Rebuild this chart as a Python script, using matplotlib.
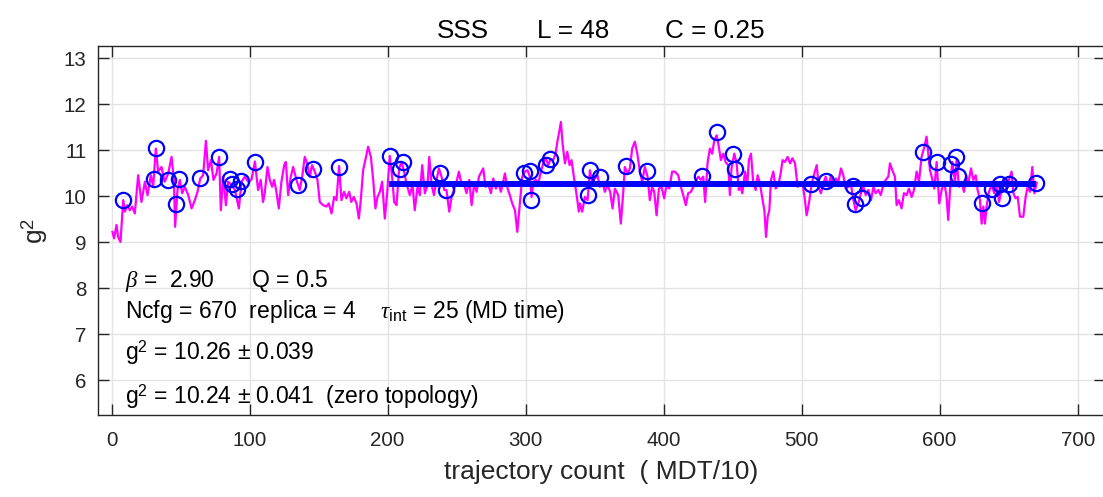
import matplotlib
matplotlib.use("Agg")
import matplotlib.pyplot as plt

# ---------------- data ----------------
traj_x = [0.7, 1.9, 3.6, 4.8, 6.5, 8.5, 9.7, 11.4, 13.3, 15.0, 16.9, 19.3, 21.7, 24.2, 26.1, 28.5,
          30.2, 32.1, 33.8, 36.2, 38.6, 41.1, 43.5, 45.2, 46.1, 47.8, 49.5, 51.2, 53.1, 55.6, 58.0,
          60.4, 62.3, 64.3, 66.4, 68.4, 70.0, 72.0, 73.9, 76.1, 78.0, 79.2, 80.9, 82.9, 84.5, 87.0,
          89.4, 92.3, 94.2, 96.6, 99.0, 101.4, 103.9, 106.2, 108.1, 109.8, 111.0, 113.0, 114.7,
          116.4, 117.8, 119.5, 121.2, 123.1, 125.1, 126.3, 128.0, 129.9, 131.6, 134.0, 136.4, 138.3,
          140.0, 141.7, 143.7, 145.3, 147.3, 149.2, 150.9, 153.3, 155.7, 157.4, 159.4, 161.3, 163.0,
          164.9, 166.6, 168.5, 170.2, 172.2, 173.8, 175.5, 177.5, 179.2, 180.6, 182.3, 184.2, 185.9,
          187.9, 189.6, 191.2, 192.7, 194.4, 196.1, 198.0, 199.7, 201.6, 203.3, 204.8, 206.5, 208.4,
          210.1, 212.0, 213.7, 216.1, 218.1, 219.7, 221.7, 223.4, 225.1, 227.0, 229.0, 230.2,
          231.9, 233.6, 235.5, 237.2, 239.1, 241.1, 242.7, 244.7, 246.4, 248.3, 250.0, 251.7, 253.6,
          255.5, 257.2, 259.2, 260.9, 262.8, 264.5, 266.2, 268.1, 269.3, 271.0, 272.9, 274.9, 276.6,
          278.5, 280.2, 282.1, 283.8, 285.0, 287.0, 288.6, 290.3, 292.3, 294.0, 295.9, 297.6, 299.5,
          301.4, 303.1, 304.3, 305.8, 307.5, 309.2, 311.1, 312.8, 314.7, 316.4, 318.1, 320.0, 321.7,
          323.2, 324.4, 325.6, 326.8, 328.5, 330.2, 331.9, 333.3, 335.3, 337.0, 338.6, 339.3, 341.0,
          343.0, 344.9, 346.6, 348.3, 350.2, 352.1, 353.8, 355.7, 357.4, 359.4, 361.3, 363.0, 364.7,
          367.1, 369.0, 370.7, 371.9, 373.9, 375.6, 377.2, 379.2, 381.1, 382.8, 384.5, 386.4, 388.4,
          390.0, 391.7, 393.2, 394.9, 396.6, 398.5, 400.4, 402.1, 404.1, 406.2, 408.2, 410.6, 412.5,
          414.2, 416.1, 417.8, 419.8, 421.5, 423.1, 425.1, 427.0, 428.7, 430.1, 431.8, 433.5, 435.2,
          436.7, 438.4, 440.0, 441.5, 443.2, 444.9, 446.8, 448.0, 449.2, 451.2, 452.9, 454.5, 455.3,
          457.0, 459.0, 460.6, 461.8, 463.3, 465.0, 466.7, 468.1, 469.8, 471.5, 473.0, 474.2, 475.4,
          476.6, 477.8, 479.5, 481.2, 483.1, 484.8, 486.2, 487.9, 489.9, 491.6, 493.3, 495.2, 497.1,
          498.8, 500.7, 502.4, 503.6, 505.3, 507.3, 509.2, 510.9, 512.6, 514.0, 515.7, 517.4, 519.3,
          521.3, 522.9, 524.9, 526.6, 528.5, 530.2, 531.9, 533.8, 535.8, 537.5, 539.1, 541.1, 543.0,
          544.7, 546.4, 548.3, 550.3, 552.0, 553.6, 555.6, 557.3, 559.2, 560.9, 562.8, 564.0, 565.7,
          567.6, 568.8, 570.5, 572.4, 574.1, 576.1, 577.7, 579.7, 581.4, 583.3, 585.0, 586.9, 588.9,
          590.5, 591.8, 593.0, 594.2, 596.1, 597.8, 599.7, 601.4, 603.3, 605.0, 606.2, 607.5, 609.1,
          611.1, 612.3, 614.0, 615.9, 617.6, 619.1, 620.7, 622.7, 624.4, 626.1, 627.5, 629.2, 630.4,
          631.6, 632.8, 634.0, 635.7, 637.6, 639.6, 641.3, 643.0, 644.9, 646.8, 648.5, 650.2, 652.1,
          653.4, 655.0, 656.5, 658.2, 660.6, 662.3, 663.7, 665.4, 667.1, 668.6, 670.3]
traj_g2 = [9.23, 9.09, 9.38, 9.12, 9.01, 9.92, 9.67, 9.81, 9.70, 9.78, 9.63, 10.46, 9.88, 10.32, 10.03,
           10.46, 10.21, 11.04, 10.54, 10.64, 10.32, 10.50, 10.86, 10.36, 9.34, 10.14, 10.36, 10.07,
           10.21, 10.03, 9.74, 9.92, 10.10, 10.39, 10.46, 11.21, 10.57, 10.79, 10.36, 10.50, 10.86,
           9.70, 10.43, 9.81, 10.32, 10.25, 10.14, 9.74, 10.32, 10.43, 10.32, 10.36, 10.76, 10.14,
           10.36, 9.88, 10.07, 10.64, 10.36, 10.21, 10.36, 10.10, 9.74, 10.32, 10.68, 10.75, 10.03,
           10.43, 10.64, 10.36, 10.14, 10.46, 10.86, 10.72, 10.43, 10.68, 10.54, 10.36, 9.88, 9.81,
           9.78, 9.85, 9.63, 9.99, 9.92, 10.66, 9.92, 10.10, 9.96, 10.10, 9.88, 9.99, 9.85, 9.52,
           9.92, 10.57, 10.83, 11.08, 10.86, 10.36, 9.74, 9.99, 10.10, 10.32, 9.52, 10.07, 10.88,
           10.43, 9.88, 9.81, 10.61, 10.75, 10.54, 10.28, 10.03, 10.25, 9.70, 10.21, 10.03, 10.68,
           10.07, 10.25, 10.86, 10.25, 10.03, 10.36, 10.61, 10.43, 10.14, 10.14, 9.67, 9.99, 10.17,
           10.32, 10.54, 10.25, 10.25, 10.07, 10.36, 9.81, 10.28, 10.10, 10.43, 10.54, 10.61, 10.21,
           10.28, 10.07, 10.39, 10.17, 10.32, 10.10, 10.32, 10.50, 10.17, 10.03, 9.85, 9.70, 9.23,
           9.85, 10.43, 10.54, 10.57, 10.43, 9.99, 10.32, 10.36, 10.28, 10.54, 10.72, 10.83, 10.68,
           10.81, 10.79, 10.93, 11.22, 11.41, 11.62, 11.15, 10.72, 10.97, 10.68, 10.79, 10.36, 10.03,
           9.67, 9.85, 9.67, 9.99, 9.92, 10.57, 10.32, 10.39, 10.46, 10.21, 10.32, 10.10, 10.25,
           10.10, 9.74, 10.17, 10.03, 9.41, 10.07, 10.64, 10.50, 10.61, 11.04, 11.19, 10.90, 10.54,
           10.32, 10.64, 10.43, 9.92, 10.21, 10.10, 9.59, 10.17, 10.21, 9.96, 10.25, 10.17, 10.54,
           10.54, 10.46, 10.21, 10.03, 9.81, 10.07, 10.10, 10.21, 10.32, 10.43, 10.36, 10.43, 9.88,
           10.72, 11.04, 10.93, 11.22, 11.33, 11.08, 10.79, 10.93, 10.75, 10.68, 10.03, 10.61, 10.93,
           10.72, 10.14, 10.25, 10.07, 10.54, 10.25, 10.79, 10.93, 10.28, 10.14, 10.46, 10.28, 9.96,
           9.70, 9.12, 9.56, 9.70, 10.36, 10.54, 10.17, 10.25, 10.50, 10.79, 10.75, 10.86, 10.72,
           10.83, 10.72, 10.21, 10.25, 10.28, 9.92, 9.59, 9.85, 10.28, 10.50, 10.68, 10.17, 10.07,
           10.28, 10.43, 10.21, 10.46, 10.25, 10.39, 10.32, 10.61, 10.46, 10.17, 10.21, 10.25, 9.92,
           9.70, 9.85, 10.07, 10.21, 10.03, 10.14, 9.92, 10.21, 10.07, 10.14, 10.03, 10.25, 10.36,
           10.43, 10.72, 10.57, 10.43, 9.81, 9.92, 9.74, 10.07, 10.03, 10.17, 9.99, 10.14, 10.54,
           10.32, 10.86, 11.08, 11.30, 10.93, 10.57, 10.43, 10.17, 10.75, 9.85, 10.14, 10.32, 9.99,
           9.49, 10.14, 10.75, 10.32, 10.79, 10.21, 10.32, 10.10, 10.46, 10.28, 10.61, 10.36, 10.46,
           10.14, 9.92, 9.41, 9.78, 9.41, 9.78, 10.10, 10.25, 10.07, 10.32, 9.88, 10.14, 10.39, 10.14,
           10.36, 10.54, 10.07, 9.96, 9.99, 9.56, 9.56, 9.99, 10.21, 10.10, 10.64, 10.07, 10.30]

zero_top_x = [8, 32, 31, 41, 47, 49, 64, 78, 86, 87, 91, 94, 104, 135, 146, 165, 202, 209, 211,
              238, 242, 299, 303, 304, 315, 318, 345, 347, 354, 373, 388, 428, 439, 450, 452,
              507, 518, 537, 539, 544, 588, 598, 608, 612, 613, 631, 638, 644, 645, 650, 670]
zero_top_g2 = [9.92, 11.06, 10.38, 10.36, 9.83, 10.37, 10.41, 10.86, 10.37, 10.28, 10.16, 10.34,
               10.74, 10.24, 10.59, 10.64, 10.88, 10.59, 10.75, 10.51, 10.14, 10.51, 10.56, 9.93,
               10.68, 10.81, 10.04, 10.57, 10.42, 10.67, 10.55, 10.45, 11.39, 10.93, 10.59, 10.28,
               10.33, 10.22, 9.83, 9.97, 10.97, 10.75, 10.70, 10.85, 10.45, 9.86, 10.17, 10.28,
               9.97, 10.27, 10.30]

mean_range = [201, 670]
mean_g2 = 10.26

x_ticks = [0, 100, 200, 300, 400, 500, 600, 700]
y_ticks = [6, 7, 8, 9, 10, 11, 12, 13]

title_parts = ["SSS", "L = 48", "C = 0.25"]
info_lines = [r"$\beta$ =  2.90      Q = 0.5",
              r"Ncfg = 670  replica = 4    $\tau_{\rm int}$ = 25 (MD time)",
              r"g$^2$ = 10.26 $\pm$ 0.039",
              r"g$^2$ = 10.24 $\pm$ 0.041  (zero topology)"]
info_y = [8.04, 7.36, 6.45, 5.50]

# ---------------- style ----------------
plt.rcParams['font.family'] = ['Liberation Sans', 'DejaVu Sans']
plt.rcParams['mathtext.fontset'] = 'custom'
plt.rcParams['mathtext.rm'] = 'Liberation Sans'
plt.rcParams['mathtext.it'] = 'Liberation Serif:italic'
plt.rcParams['mathtext.bf'] = 'Liberation Sans:bold'

fig = plt.figure(figsize=(11.03, 4.97), dpi=100)
ax = fig.add_axes([97.7 / 1103, 82 / 497, (1105.3 - 97.7) / 1103, 369 / 497])

ax.plot(traj_x, traj_g2, color='#ff00ff', lw=1.6, zorder=3)
ax.plot(zero_top_x, zero_top_g2, 'o', ms=11, mfc='none', mec='#0000ff', mew=1.6, zorder=4)
ax.plot(mean_range, [mean_g2, mean_g2], color='#0000ff', lw=4.3, solid_capstyle='butt', zorder=5)

ax.set_xlim(-10, 720)
ax.set_ylim(5.25, 13.27)
ax.set_xticks(x_ticks)
ax.set_yticks(y_ticks)
ax.grid(True, color='#e3e3e3', lw=1.0)
ax.set_axisbelow(True)
for s in ax.spines.values():
    s.set_color('#262626')
    s.set_linewidth(1.0)
ax.tick_params(direction='in', length=8, width=1.0, color='#262626', labelcolor='#262626',
               labelsize=14.8, top=True, right=True)
ax.tick_params(axis='x', pad=11.5)
ax.tick_params(axis='y', pad=8)

ax.set_xlabel("trajectory count  ( MDT/10)", fontsize=19, color='#262626', labelpad=7.5)
ax.set_ylabel(r"g$^2$", fontsize=19, color='#262626', labelpad=10)

title_x = [462.5, 573.5, 715.0]
for t, px in zip(title_parts, title_x):
    fig.text(px / 1103, 1 - 38 / 497, t, ha='center', va='baseline', fontsize=18.8, color='black')

for line, yv in zip(info_lines, info_y):
    ax.text(10, yv, line, fontsize=16.5, va='baseline', ha='left', color='black', zorder=6)

fig.savefig("out.png", dpi=100)
